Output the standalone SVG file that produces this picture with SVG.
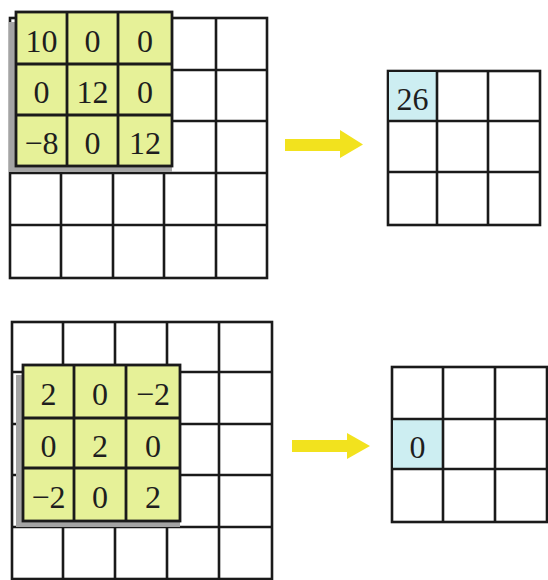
<svg xmlns="http://www.w3.org/2000/svg" width="548" height="580" viewBox="0 0 548 580">
<style>
.grid{fill:#fff;stroke:#1a1a1a;stroke-width:2.6}
.gl{stroke:#1a1a1a;stroke-width:2.6;fill:none}
.ker{fill:#e6f198;stroke:#1a1a1a;stroke-width:2.8}
.kl{stroke:#1a1a1a;stroke-width:2.8;fill:none}
.sh{fill:#a4a4a4}
.hi{fill:#cdeef2}
.t{font-family:"Liberation Serif","DejaVu Serif",serif;font-size:32px;fill:#1e1e1e;text-anchor:middle}
.arr{fill:#f2e21e}
</style>
<rect width="548" height="580" fill="#fff"/>

<g id="input-top">
<rect class="grid" x="10" y="18" width="257" height="260"/>
<path class="gl" d="M61 18V278M113 18V278M164 18V278M216 18V278M10 70H267M10 121H267M10 173H267M10 225H267"/>
</g>
<g id="kernel-top">
<path class="sh" d="M9 22H16V166H172V172H9Z"/>
<rect class="ker" x="16" y="12" width="156" height="154"/>
<path class="kl" d="M67 12V166M118 12V166M16 64H172M16 115H172"/>
<text class="t" x="41.5" y="51.5">10</text>
<text class="t" x="92.5" y="51.5">0</text>
<text class="t" x="145" y="51.5">0</text>
<text class="t" x="41.5" y="103">0</text>
<text class="t" x="92.5" y="103">12</text>
<text class="t" x="145" y="103">0</text>
<text class="t" x="41.5" y="154">−8</text>
<text class="t" x="92.5" y="154">0</text>
<text class="t" x="145" y="154">12</text>
</g>
<g id="output-top">
<rect class="grid" x="388" y="71" width="152" height="154"/>
<rect class="hi" x="389" y="72" width="48" height="49"/>
<path class="gl" d="M437 71V225M488 71V225M388 121H540M388 172H540"/>
<text class="t" x="412.5" y="109.5">26</text>
</g>

<g id="input-bottom">
<rect class="grid" x="12" y="322" width="260" height="257"/>
<path class="gl" d="M63 322V579M115 322V579M167 322V579M219 322V579M12 372H272M12 424H272M12 475H272M12 527H272"/>
</g>
<g id="kernel-bottom">
<path class="sh" d="M16 375H23V521H180V527H16Z"/>
<rect class="ker" x="23" y="365" width="157" height="156"/>
<path class="kl" d="M74 365V521M126 365V521M23 418H180M23 468H180"/>
<text class="t" x="48.5" y="405">2</text>
<text class="t" x="100" y="405">0</text>
<text class="t" x="153" y="405">−2</text>
<text class="t" x="48.5" y="456.5">0</text>
<text class="t" x="100" y="456.5">2</text>
<text class="t" x="153" y="456.5">0</text>
<text class="t" x="48.5" y="508">−2</text>
<text class="t" x="100" y="508">0</text>
<text class="t" x="153" y="508">2</text>
</g>
<g id="output-bottom">
<rect class="grid" x="392" y="367" width="155" height="155"/>
<rect class="hi" x="393" y="419" width="50" height="50"/>
<path class="gl" d="M443 367V522M495 367V522M392 419H547M392 469H547"/>
<text class="t" x="417.5" y="457.5">0</text>
</g>

<g id="connectors">
<path class="arr" d="M285 139H340V130L363 144.5L340 158V151H285Z"/>
<path class="arr" d="M292 440H347V433L370 446L347 459V452H292Z"/>
</g>
</svg>
